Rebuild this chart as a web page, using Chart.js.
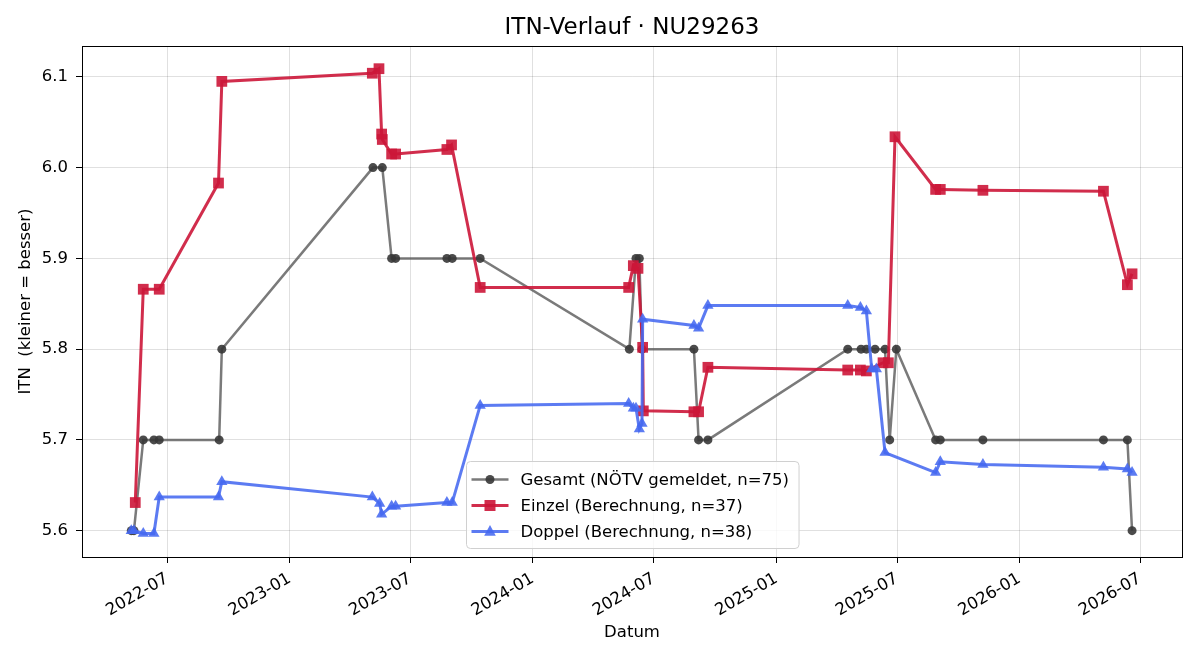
<!DOCTYPE html>
<html>
<head>
<meta charset="utf-8">
<title>ITN-Verlauf</title>
<script src="https://cdn.jsdelivr.net/npm/chart.js@4.4.1/dist/chart.umd.min.js"></script>
<style>
  html, body { margin: 0; padding: 0; background: #fff; }
  #wrap { width: 1200px; height: 660px; }
</style>
</head>
<body>
<div id="wrap"><canvas id="grafico" width="1200" height="660"></canvas></div>
<script>
// --- Daten ---
const tickLabels = ["2022-07", "2023-01", "2023-07", "2024-01", "2024-07", "2025-01", "2025-07", "2026-01", "2026-07"];
const yTicks = [5.6, 5.7, 5.8, 5.9, 6.0, 6.1];

const gesamtDates = [
  "2022-05-08", "2022-05-12", "2022-05-26", "2022-06-11", "2022-06-19", "2022-09-17", "2022-09-21",
  "2023-05-06", "2023-05-20", "2023-06-03", "2023-06-09", "2023-08-25", "2023-09-02", "2023-10-14",
  "2024-05-25", "2024-06-04", "2024-06-09", "2024-06-13", "2024-08-30", "2024-09-06", "2024-09-20",
  "2025-04-18", "2025-05-08", "2025-05-16", "2025-05-29", "2025-06-13", "2025-06-20", "2025-06-30",
  "2025-08-28", "2025-09-04", "2025-11-07", "2026-05-07", "2026-06-12", "2026-06-19"
];
const gesamtVals = [
  5.6, 5.6, 5.7, 5.7, 5.7, 5.7, 5.8,
  6.0, 6.0, 5.9, 5.9, 5.9, 5.9, 5.9,
  5.8, 5.9, 5.9, 5.8, 5.8, 5.7, 5.7,
  5.8, 5.8, 5.8, 5.8, 5.8, 5.7, 5.8,
  5.7, 5.7, 5.7, 5.7, 5.7, 5.6
];

const einzelDates = [
  "2022-05-14", "2022-05-26", "2022-06-19", "2022-09-16", "2022-09-21",
  "2023-05-05", "2023-05-15", "2023-05-19", "2023-05-20", "2023-06-03", "2023-06-09", "2023-08-25", "2023-09-01", "2023-10-14",
  "2024-05-24", "2024-05-31", "2024-06-07", "2024-06-14", "2024-06-15", "2024-08-30", "2024-09-06", "2024-09-20",
  "2025-04-18", "2025-05-07", "2025-05-16", "2025-06-10", "2025-06-18", "2025-06-28", "2025-08-28", "2025-09-04", "2025-11-07",
  "2026-05-07", "2026-06-12", "2026-06-19"
];
const einzelVals = [
  5.631, 5.866, 5.866, 5.983, 6.095,
  6.104, 6.109, 6.037, 6.031, 6.015, 6.015, 6.020, 6.025, 5.868,
  5.868, 5.892, 5.889, 5.802, 5.732, 5.731, 5.731, 5.780,
  5.777, 5.777, 5.776, 5.785, 5.785, 6.034, 5.976, 5.976, 5.975,
  5.974, 5.871, 5.883
];

const doppelDates = [
  "2022-05-08", "2022-05-12", "2022-05-26", "2022-06-11", "2022-06-19", "2022-09-16", "2022-09-21",
  "2023-05-05", "2023-05-16", "2023-05-19", "2023-06-03", "2023-06-09", "2023-08-25", "2023-09-02", "2023-10-14",
  "2024-05-24", "2024-05-31", "2024-06-04", "2024-06-09", "2024-06-13", "2024-06-14", "2024-08-30", "2024-09-06", "2024-09-20",
  "2025-04-18", "2025-05-07", "2025-05-16", "2025-05-24", "2025-05-31", "2025-06-13", "2025-08-28", "2025-09-04", "2025-11-07",
  "2026-05-07", "2026-06-12", "2026-06-19"
];
const doppelVals = [
  5.600, 5.600, 5.597, 5.597, 5.637, 5.637, 5.654,
  5.637, 5.630, 5.618, 5.627, 5.627, 5.631, 5.631, 5.738,
  5.740, 5.735, 5.735, 5.712, 5.718, 5.833, 5.826, 5.823, 5.848,
  5.848, 5.846, 5.842, 5.778, 5.778, 5.686, 5.664, 5.676, 5.673,
  5.670, 5.668, 5.664
];

const FONT = "'DejaVu Sans', 'Liberation Sans', sans-serif";

function punkte(dates, vals) {
  return dates.map((d, i) => ({ x: Date.parse(d), y: vals[i] }));
}

// Titel ueber dem Diagramm
const titelPlugin = {
  id: "titel",
  afterDraw(chart) {
    const { ctx, chartArea } = chart;
    ctx.save();
    ctx.font = "23px " + FONT;
    ctx.fillStyle = "#000";
    ctx.textAlign = "center";
    ctx.textBaseline = "middle";
    ctx.fillText("ITN-Verlauf · NU29263", (chartArea.left + chartArea.right) / 2, 28);
    ctx.restore();
  }
};

// Rahmen um die Achsen
const rahmenPlugin = {
  id: "rahmen",
  afterDraw(chart) {
    const { ctx, chartArea: a } = chart;
    ctx.save();
    ctx.strokeStyle = "#000";
    ctx.lineWidth = 1;
    ctx.strokeRect(Math.round(a.left) + 0.5, Math.round(a.top) + 0.5, Math.round(a.right - a.left), Math.round(a.bottom - a.top));
    ctx.restore();
  }
};

function marker(ctx, style, x, y, color) {
  ctx.fillStyle = color;
  ctx.beginPath();
  if (style === "circle") {
    ctx.arc(x, y, 4.5, 0, Math.PI * 2);
  } else if (style === "rect") {
    ctx.rect(x - 5.5, y - 5.5, 11, 11);
  } else {
    ctx.moveTo(x, y - 6.5);
    ctx.lineTo(x + 5.8, y + 4.2);
    ctx.lineTo(x - 5.8, y + 4.2);
    ctx.closePath();
  }
  ctx.fill();
}

// Legende unten in der Mitte, innerhalb der Achsen
const legendePlugin = {
  id: "legende",
  afterDraw(chart) {
    const { ctx, chartArea: a } = chart;
    const ds = chart.data.datasets;
    ctx.save();
    ctx.font = "16.5px " + FONT;
    let maxW = 0;
    ds.forEach(d => { maxW = Math.max(maxW, ctx.measureText(d.label).width); });
    const w = 54 + maxW + 10;
    const h = 87;
    const x0 = Math.round((a.left + a.right) / 2 - w / 2) + 0.5;
    const y0 = Math.round(a.bottom - 9 - h) + 0.5;
    ctx.beginPath();
    ctx.roundRect(x0, y0, w, h, 4);
    ctx.fillStyle = "rgba(255,255,255,0.8)";
    ctx.fill();
    ctx.strokeStyle = "#d0d0d0";
    ctx.lineWidth = 1;
    ctx.stroke();
    ds.forEach((d, i) => {
      const y = y0 + 18 + i * 26;
      ctx.strokeStyle = d.borderColor;
      ctx.lineWidth = d.borderWidth;
      ctx.beginPath();
      ctx.moveTo(x0 + 5, y);
      ctx.lineTo(x0 + 42, y);
      ctx.stroke();
      marker(ctx, d.pointStyle, x0 + 23.5, y, d.pointBackgroundColor);
      ctx.fillStyle = "#000";
      ctx.textAlign = "left";
      ctx.textBaseline = "middle";
      ctx.fillText(d.label, x0 + 54, y + 1);
    });
    ctx.restore();
  }
};

Chart.defaults.font.family = FONT;
Chart.defaults.font.size = 16.5;
Chart.defaults.color = "#000";

const ctx = document.getElementById("grafico").getContext("2d");
new Chart(ctx, {
  type: "line",
  data: {
    datasets: [
      {
        label: "Gesamt (NÖTV gemeldet, n=75)",
        data: punkte(gesamtDates, gesamtVals),
        borderColor: "rgba(85,85,85,0.78)",
        borderWidth: 2.5,
        pointStyle: "circle",
        pointRadius: 4.5,
        pointBorderWidth: 0,
        pointBackgroundColor: "rgba(55,55,55,0.9)",
        order: 3
      },
      {
        label: "Einzel (Berechnung, n=37)",
        data: punkte(einzelDates, einzelVals),
        borderColor: "rgba(204,22,56,0.9)",
        borderWidth: 3,
        pointStyle: "rect",
        pointRadius: 7.6,
        pointBorderWidth: 0,
        pointBackgroundColor: "rgba(204,22,56,0.9)",
        order: 2
      },
      {
        label: "Doppel (Berechnung, n=38)",
        data: punkte(doppelDates, doppelVals),
        borderColor: "rgba(70,105,240,0.88)",
        borderWidth: 3,
        pointStyle: "triangle",
        pointRadius: 6.5,
        pointBorderWidth: 0,
        pointBackgroundColor: "rgba(70,105,240,0.88)",
        order: 1
      }
    ]
  },
  options: {
    responsive: false,
    animation: false,
    devicePixelRatio: 1,
    layout: { padding: { left: 0, right: 18, top: 46, bottom: 0 } },
    plugins: {
      legend: { display: false },
      title: { display: false },
      tooltip: { enabled: false }
    },
    scales: {
      x: {
        type: "linear",
        min: Date.parse("2022-02-23"),
        max: Date.parse("2026-09-02"),
        afterBuildTicks: s => { s.ticks = tickLabels.map(t => ({ value: Date.parse(t + "-01") })); },
        afterFit: s => { s.height = 103; },
        ticks: {
          autoSkip: false,
          minRotation: 30,
          maxRotation: 30,
          padding: 6,
          color: "#000",
          callback: (v, i) => tickLabels[i]
        },
        grid: { color: "rgba(0,0,0,0.12)", tickColor: "#000", tickLength: 6 },
        border: { color: "#000" },
        title: { display: true, text: "Datum", color: "#000", padding: { top: 17, bottom: 17 } }
      },
      y: {
        type: "linear",
        min: 5.571,
        max: 6.134,
        afterBuildTicks: s => { s.ticks = yTicks.map(v => ({ value: v })); },
        afterFit: s => { s.width = 82; },
        ticks: { padding: 8, color: "#000", callback: v => v.toFixed(1) },
        grid: { color: "rgba(0,0,0,0.12)", tickColor: "#000", tickLength: 6 },
        border: { color: "#000" },
        title: { display: true, text: "ITN  (kleiner = besser)", color: "#000", padding: { top: 16, bottom: 16 } }
      }
    }
  },
  plugins: [titelPlugin, rahmenPlugin, legendePlugin]
});
</script>
</body>
</html>
